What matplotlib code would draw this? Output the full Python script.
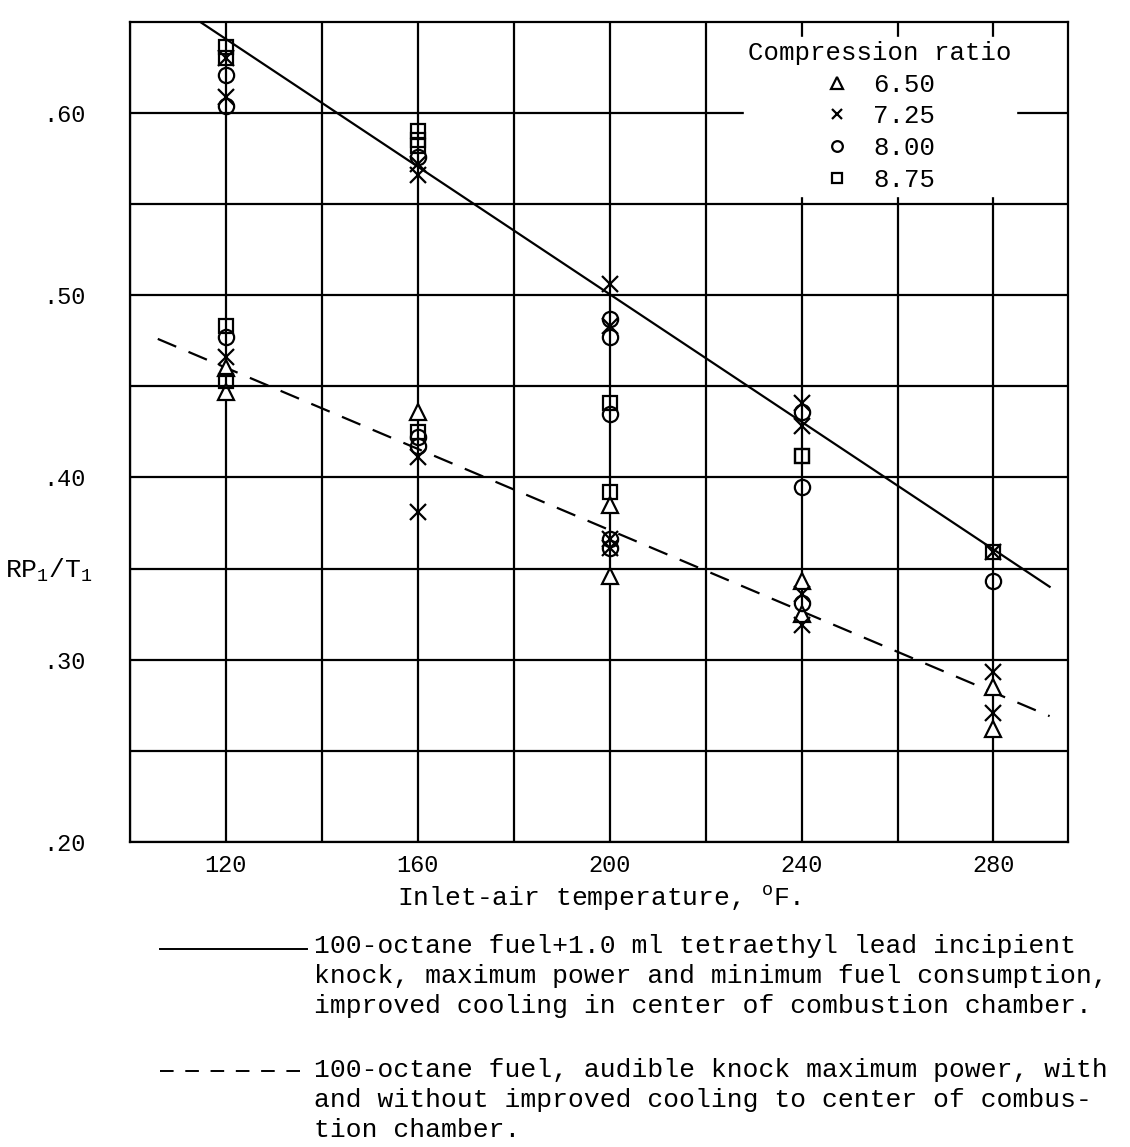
import numpy as np
import matplotlib.pyplot as plt

plt.rcParams['font.family'] = ['Liberation Mono', 'DejaVu Sans Mono']
plt.rcParams['mathtext.fontset'] = 'custom'
plt.rcParams['mathtext.rm'] = 'Liberation Mono'

# Inlet-air temperature (F) and RP1/T1 readings, grouped by compression ratio
temp_650 = [120, 120, 160, 200, 200, 240, 240, 280, 280]
rp_650 = [0.460, 0.447, 0.436, 0.385, 0.346, 0.343, 0.325, 0.285, 0.262]

temp_725 = [120, 120, 120, 160, 160, 160, 160, 200, 200, 200, 200, 240, 240, 240, 240, 280, 280, 280]
rp_725 = [0.630, 0.609, 0.466, 0.572, 0.566, 0.411, 0.381, 0.506, 0.483, 0.366, 0.361,
          0.441, 0.428, 0.336, 0.319, 0.359, 0.293, 0.271]

temp_800 = [120, 120, 120, 160, 160, 160, 200, 200, 200, 200, 200, 240, 240, 240, 280]
rp_800 = [0.621, 0.604, 0.477, 0.576, 0.422, 0.417, 0.487, 0.477, 0.435, 0.366, 0.361,
          0.436, 0.395, 0.331, 0.343]

temp_875 = [120, 120, 120, 120, 160, 160, 160, 160, 200, 200, 240, 240, 280]
rp_875 = [0.636, 0.630, 0.483, 0.453, 0.590, 0.585, 0.582, 0.425, 0.441, 0.392,
          0.412, 0.412, 0.359]

# faired lines (end points)
solid_t = [110.6, 291.7]
solid_rp = [0.657, 0.340]
dash_t = [105.8, 291.7]
dash_rp = [0.476, 0.269]

fig = plt.figure(figsize=(11.3, 11.47), dpi=100)
ax = fig.add_axes([0.115, 0.266, 0.830, 0.715])

ax.set_xlim(100, 295.5)
ax.set_ylim(0.20, 0.65)
ax.set_xticks(np.arange(120, 281, 40))
ax.set_xticks(np.arange(100, 300, 20), minor=True)
ax.set_yticks([0.20, 0.30, 0.40, 0.50, 0.60])
ax.set_yticklabels(['.20', '.30', '.40', '.50', '.60'])
ax.set_yticks(np.arange(0.25, 0.65, 0.1), minor=True)
ax.grid(True, which='both', color='black', lw=1.6)
ax.tick_params(which='both', length=0, labelsize=17)
ax.tick_params(axis='y', pad=32)
ax.tick_params(axis='x', pad=9)
for s in ax.spines.values():
    s.set_linewidth(1.6)
ax.set_axisbelow(True)

ax.plot(solid_t, solid_rp, color='black', lw=1.6, zorder=3)
ax.plot(dash_t, dash_rp, color='black', lw=1.6, dashes=(9, 6), zorder=3)

h1, = ax.plot(temp_650, rp_650, ls='none', marker='^', mfc='white', mec='black', mew=1.6, ms=12, zorder=4)
h2, = ax.plot(temp_725, rp_725, ls='none', marker='x', color='black', mew=1.6, ms=11, zorder=5)
h3, = ax.plot(temp_800, rp_800, ls='none', marker='o', mfc='none', mec='black', mew=1.6, ms=11, zorder=4)
h4, = ax.plot(temp_875, rp_875, ls='none', marker='s', mfc='none', mec='black', mew=1.6, ms=9.5, zorder=4)

leg = ax.legend([h1, h2, h3, h4], ['6.50', '7.25', '8.00', '8.75'],
                title='Compression ratio', loc='upper right', bbox_to_anchor=(0.958, 0.997),
                frameon=True, fontsize=18.5, title_fontsize=18.5, markerscale=0.7,
                handlelength=1.0, handletextpad=0.9, labelspacing=0.3, borderpad=0.15)
leg.get_frame().set_edgecolor('white')
leg.get_frame().set_alpha(1)

ax.set_xlabel(r'Inlet-air temperature, $^{\mathrm{o}}$F.', fontsize=19, labelpad=4)
fig.text(0.004, 0.503, r'RP$_1$/T$_1$', fontsize=19, ha='left', va='center')

# explanatory key below the chart
fig.add_artist(plt.Line2D([0.142, 0.272], [0.173, 0.173], color='black', lw=1.4))
fig.add_artist(plt.Line2D([0.142, 0.272], [0.066, 0.066], color='black', lw=1.4, dashes=(7, 6)))
fig.text(0.278, 0.186,
         '100-octane fuel+1.0 ml tetraethyl lead incipient\n'
         'knock, maximum power and minimum fuel consumption,\n'
         'improved cooling in center of combustion chamber.',
         fontsize=19, va='top', ha='left', linespacing=1.32)
fig.text(0.278, 0.078,
         '100-octane fuel, audible knock maximum power, with\n'
         'and without improved cooling to center of combus-\n'
         'tion chamber.',
         fontsize=19, va='top', ha='left', linespacing=1.32)

fig.savefig('out.png', dpi=100, facecolor='white')
